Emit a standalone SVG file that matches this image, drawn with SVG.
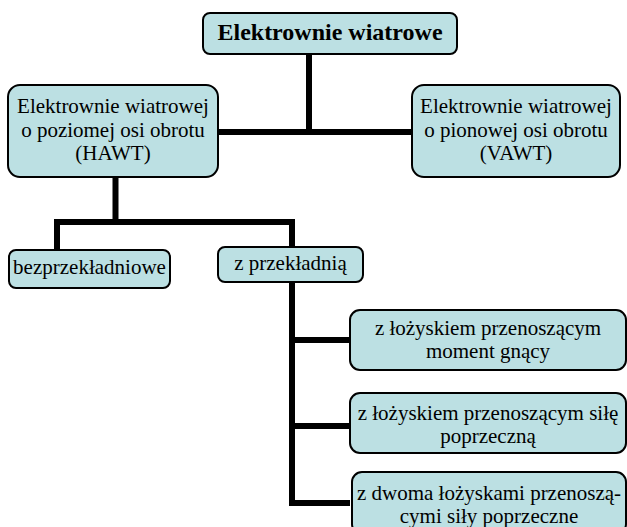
<svg xmlns="http://www.w3.org/2000/svg" width="627" height="527" viewBox="0 0 627 527">
<style>
.box{fill:#bce0e3;stroke:#000;stroke-width:2}
.t{font-size:21px;fill:#000;text-anchor:middle}
.tb{font-size:24px;font-weight:bold;fill:#000;text-anchor:middle}
.c{fill:none;stroke:#000;stroke-width:6;stroke-linejoin:miter;stroke-linecap:butt}
</style>
<rect width="627" height="527" fill="#fff"/>
<g id="connectors">
<path class="c" d="M309 54 V132 M218 132 H412"/>
<path class="c" d="M115.5 177 V222 M57 250 V222 H292 V247"/>
<path class="c" d="M292 282 V503 H350 M292 340 H350 M292 426 H350"/>
</g>
<g font-family="Liberation Serif, DejaVu Serif, serif">
<g id="root">
<rect class="box" x="203" y="13" width="254" height="41" rx="7"/>
<text class="tb" x="330" y="40" font-family="Liberation Serif">Elektrownie wiatrowe</text>
</g>
<g id="hawt">
<rect class="box" x="8" y="85" width="210" height="92" rx="12"/>
<text class="t" x="113" y="113" font-family="Liberation Serif">Elektrownie wiatrowej</text>
<text class="t" x="113" y="137" font-family="Liberation Serif">o poziomej osi obrotu</text>
<text class="t" x="113" y="160" font-family="Liberation Serif">(HAWT)</text>
</g>
<g id="vawt">
<rect class="box" x="412" y="85" width="208" height="92" rx="12"/>
<text class="t" x="516" y="113" font-family="Liberation Serif">Elektrownie wiatrowej</text>
<text class="t" x="516" y="137" font-family="Liberation Serif">o pionowej osi obrotu</text>
<text class="t" x="516" y="160" font-family="Liberation Serif">(VAWT)</text>
</g>
<g id="bez">
<rect class="box" x="9" y="250" width="161" height="38" rx="7"/>
<text class="t" x="89.5" y="274" font-family="Liberation Serif">bezprzekładniowe</text>
</g>
<g id="zprzek">
<rect class="box" x="218" y="247" width="145" height="35" rx="7"/>
<text class="t" x="290.5" y="270" font-family="Liberation Serif">z przekładnią</text>
</g>
<g id="moment">
<rect class="box" x="350" y="310" width="276" height="60" rx="10"/>
<text class="t" x="488" y="335" font-family="Liberation Serif">z łożyskiem przenoszącym</text>
<text class="t" x="488" y="358" font-family="Liberation Serif">moment gnący</text>
</g>
<g id="sila">
<rect class="box" x="350" y="393" width="276" height="60" rx="10"/>
<text class="t" x="488" y="420" font-family="Liberation Serif">z łożyskiem przenoszącym siłę</text>
<text class="t" x="488" y="443" font-family="Liberation Serif">poprzeczną</text>
</g>
<g id="dwoma">
<rect class="box" x="352" y="472" width="274" height="62" rx="10"/>
<text class="t" x="489" y="500" font-family="Liberation Serif">z dwoma łożyskami przenoszą-</text>
<text class="t" x="489" y="523" font-family="Liberation Serif">cymi siły poprzeczne</text>
</g>
</g>
</svg>
